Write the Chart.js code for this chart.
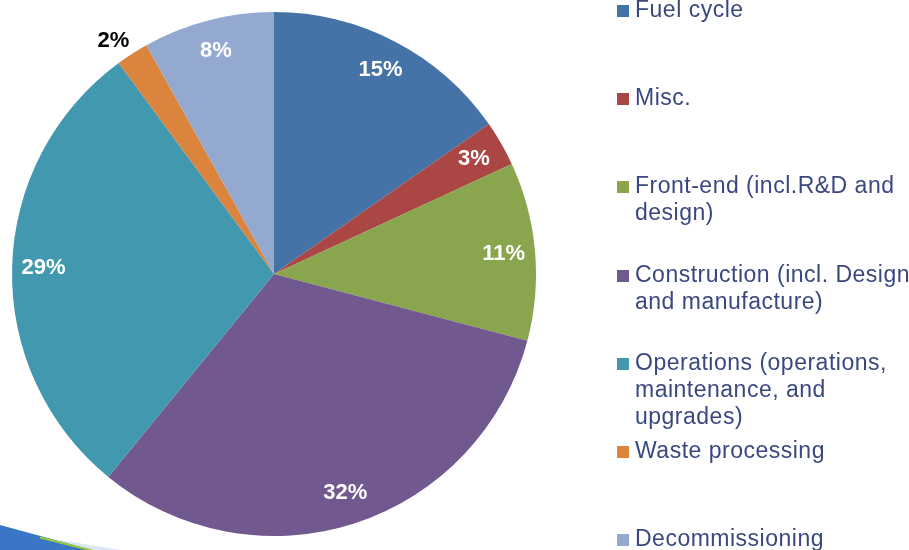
<!DOCTYPE html>
<html>
<head>
<meta charset="utf-8">
<script src="https://cdn.jsdelivr.net/npm/chart.js@4.4.0/dist/chart.umd.min.js"></script>
<style>
  html, body { margin: 0; padding: 0; background: #ffffff; overflow: hidden; }
  #wrap { position: relative; width: 909px; height: 550px; }
  #pie { position: absolute; left: 0; top: 0; }
  #legend {
    position: absolute; left: 617px; top: -4px; margin: 0; padding: 0;
    list-style: none; font-family: 'Liberation Sans', Arial, sans-serif;
    font-size: 23px; line-height: 27px; color: #3a4880; letter-spacing: 0.5px;
  }
  #legend li { display: flex; align-items: flex-start; height: 88.2px; }
  #legend .box { width: 12px; height: 12px; margin-top: 9px; margin-right: 6px; flex: none; }
  #legend .txt { white-space: nowrap; }
</style>
</head>
<body>
<div id="wrap">
  <canvas id="pie" width="909" height="550"></canvas>
  <ul id="legend"></ul>
</div>
<script>
(function () {
    // ── Dữ liệu ───────────────────────────────────────────
    const categories = [
        ['Fuel cycle'],
        ['Misc.'],
        ['Front-end (incl.R&D and', 'design)'],
        ['Construction (incl. Design', 'and manufacture)'],
        ['Operations (operations,', 'maintenance, and', 'upgrades)'],
        ['Waste processing'],
        ['Decommissioning']
    ];
    const shares = [15.3, 2.8, 11.0, 31.8, 29.0, 2.0, 8.1];
    const COLORS = ['#4572a7', '#aa4643', '#89a54e', '#71588f', '#4198af', '#db843d', '#93a9cf'];

    // ── Nhãn phần trăm trên lát bánh ───────────────────────
    const sliceLabels = {
        id: 'sliceLabels',
        afterDatasetsDraw(chart) {
            const ctx = chart.ctx;
            const meta = chart.getDatasetMeta(0);
            const data = chart.data.datasets[0].data;
            const total = data.reduce((a, b) => a + b, 0);
            ctx.save();
            ctx.font = "bold 22px 'Liberation Sans', Arial, sans-serif";
            meta.data.forEach((arc, i) => {
                const pct = data[i] / total * 100;
                const mid = (arc.startAngle + arc.endAngle) / 2;
                const text = Math.round(pct) + '%';
                if (pct < 2.5) {
                    // nhãn nhỏ đặt ngoài mép bánh
                    const r = arc.outerRadius * 1.02;
                    ctx.fillStyle = '#000000';
                    ctx.textAlign = Math.cos(mid) < 0 ? 'right' : 'left';
                    ctx.textBaseline = 'alphabetic';
                    ctx.fillText(text, arc.x + Math.cos(mid) * r, arc.y + Math.sin(mid) * r - 2);
                } else {
                    const r = arc.outerRadius * 0.88;
                    ctx.fillStyle = '#ffffff';
                    ctx.textAlign = 'center';
                    ctx.textBaseline = 'middle';
                    ctx.fillText(text, arc.x + Math.cos(mid) * r, arc.y + Math.sin(mid) * r);
                }
            });
            ctx.restore();
        }
    };

    // ── Dải trang trí góc dưới trái ───────────────────────
    const swoosh = {
        id: 'swoosh',
        afterDraw(chart) {
            const ctx = chart.ctx;
            ctx.save();
            ctx.fillStyle = '#dce8f6';
            ctx.beginPath();
            ctx.moveTo(60, 540);
            ctx.lineTo(120, 550);
            ctx.lineTo(60, 550);
            ctx.fill();
            ctx.fillStyle = '#3a76c6';
            ctx.beginPath();
            ctx.moveTo(0, 525);
            ctx.lineTo(92, 550);
            ctx.lineTo(0, 550);
            ctx.fill();
            ctx.strokeStyle = '#9cc83c';
            ctx.lineWidth = 2;
            ctx.beginPath();
            ctx.moveTo(40, 537.5);
            ctx.lineTo(94, 551);
            ctx.stroke();
            ctx.restore();
        }
    };

    // ── Chú giải HTML ─────────────────────────────────────
    const htmlLegend = {
        id: 'htmlLegend',
        afterUpdate(chart) {
            const ul = document.getElementById('legend');
            ul.innerHTML = '';
            const items = chart.options.plugins.legend.labels.generateLabels(chart);
            items.forEach((item, i) => {
                const li = document.createElement('li');
                const box = document.createElement('span');
                box.className = 'box';
                box.style.background = item.fillStyle;
                const txt = document.createElement('span');
                txt.className = 'txt';
                txt.innerHTML = categories[i].join('<br>');
                li.appendChild(box);
                li.appendChild(txt);
                ul.appendChild(li);
            });
        }
    };

    new Chart(document.getElementById('pie'), {
        type: 'pie',
        data: {
            labels: categories,
            datasets: [{
                data: shares,
                backgroundColor: COLORS,
                borderWidth: 0
            }]
        },
        options: {
            responsive: false,
            animation: false,
            devicePixelRatio: 1,
            layout: { padding: { left: 12, top: 12, right: 373, bottom: 14 } },
            plugins: {
                legend: { display: false },
                tooltip: { enabled: false }
            }
        },
        plugins: [sliceLabels, swoosh, htmlLegend]
    });
})();
</script>
</body>
</html>
